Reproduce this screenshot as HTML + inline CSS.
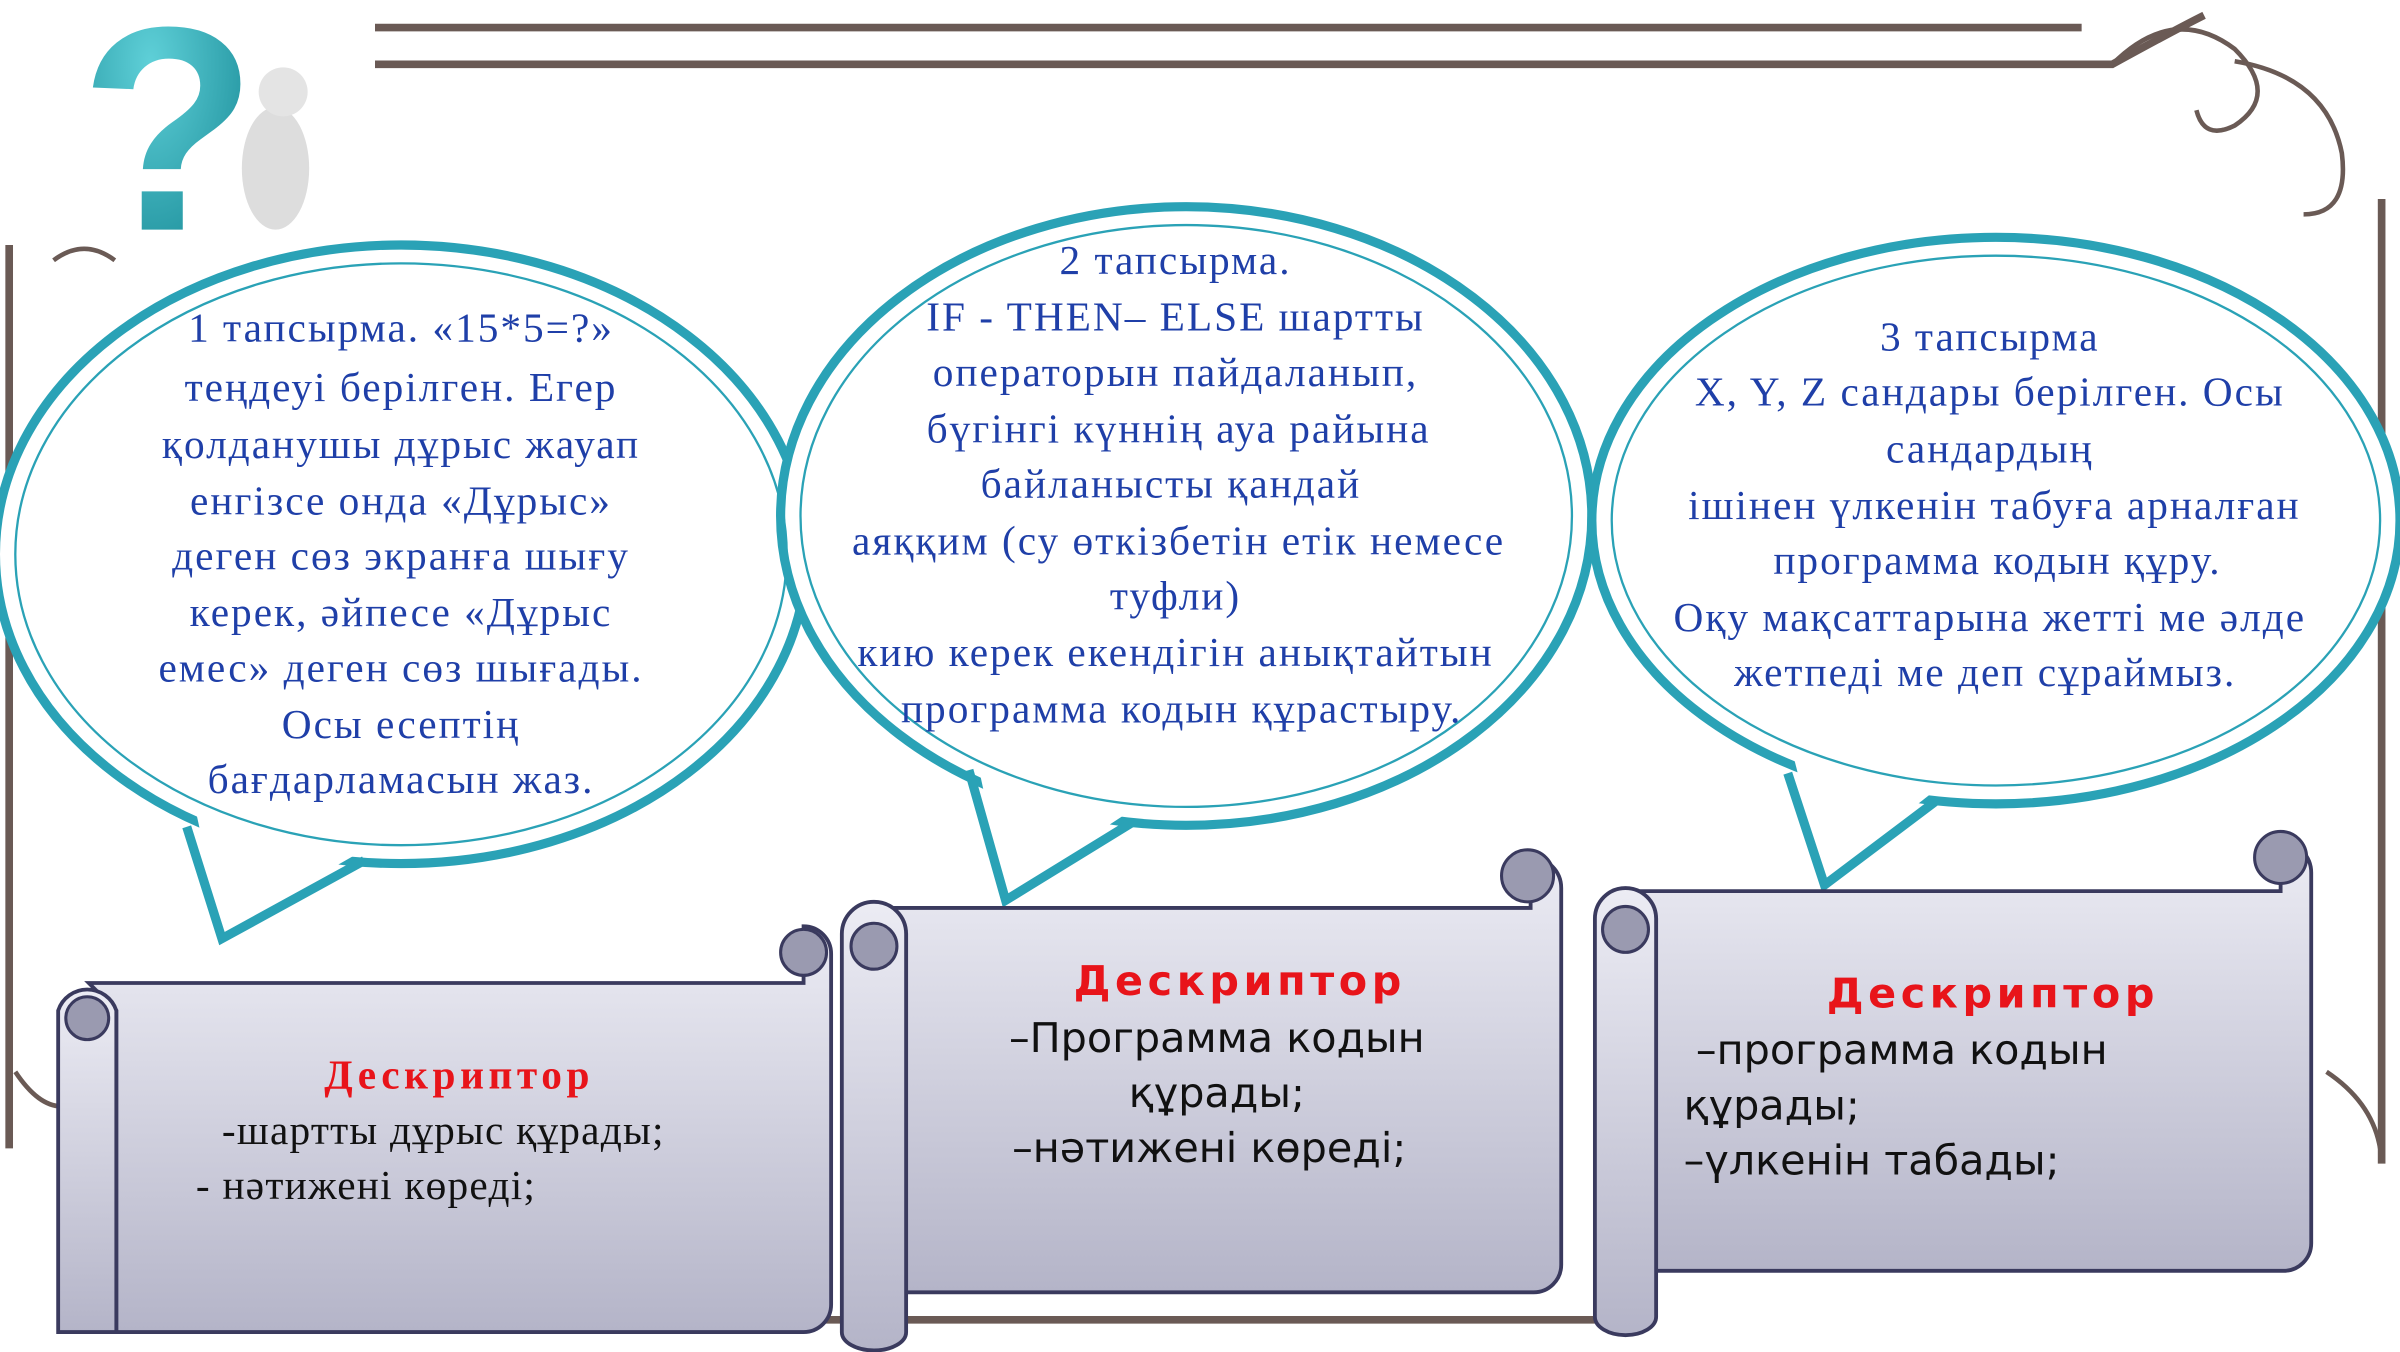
<!DOCTYPE html>
<html><head><meta charset="utf-8">
<style>
html,body{margin:0;padding:0;background:#fff;}
svg{display:block;}
.b{font-family:"Liberation Serif","DejaVu Serif",serif;font-size:27px;letter-spacing:1.3px;fill:#1f3fa8;text-anchor:middle;}
.d{font-family:"DejaVu Sans","Liberation Sans",sans-serif;font-size:27px;fill:#111;text-anchor:middle;}
.ds{font-family:"Liberation Serif",serif;font-size:27px;fill:#111;letter-spacing:0.8px;}
.r{fill:#e8141a;font-weight:bold;text-anchor:middle;letter-spacing:3px;}
</style></head><body>
<svg width="2400" height="1352" viewBox="0 0 1568 883" preserveAspectRatio="none" xmlns="http://www.w3.org/2000/svg">
<defs>
<linearGradient id="g" x1="0" y1="0" x2="0" y2="1">
<stop offset="0" stop-color="#ececf4"/><stop offset="1" stop-color="#b4b4c8"/></linearGradient>
<radialGradient id="q" cx="0.4" cy="0.3" r="0.7"><stop offset="0" stop-color="#5fd0d8"/><stop offset="1" stop-color="#1a8c98"/></radialGradient>
</defs>
<rect width="1568" height="883" fill="#fff"/>
<g fill="none" stroke="#6a5a55" stroke-width="5">
<path d="M245 42 H1380 Q1420 20 1440 10"/>
<path d="M245 18 H1360"/>
<path d="M6 160 V750"/>
<path d="M1556 130 V760"/>
<path d="M520 862 H1060"/>
</g>
<g fill="none" stroke="#6a5a55" stroke-width="3">
<path d="M1380 42 q40 -40 80 -10 q30 30 0 50 q-20 10 -25 -10"/>
<path d="M1460 40 q60 10 70 60 q5 40 -25 40"/>
<path d="M35 170 q20 -15 40 0"/>
<path d="M10 700 q20 30 40 20"/>
<path d="M1520 700 q30 20 35 50"/>
</g>
<rect x="0" y="0" width="245" height="158" fill="#fff"/>
<text x="110" y="150" font-family="Liberation Sans,sans-serif" font-weight="bold" font-size="190" fill="url(#q)" text-anchor="middle">?</text>
<ellipse cx="180" cy="110" rx="22" ry="40" fill="#ddd"/>
<circle cx="185" cy="60" r="16" fill="#e4e4e4"/>
<!-- bubbles -->
<g fill="#fff" stroke="#2aa2b6" stroke-width="6" stroke-linejoin="miter">
<ellipse cx="262" cy="362" rx="265" ry="202"/>
<ellipse cx="775" cy="337" rx="265" ry="202"/>
<ellipse cx="1304" cy="340" rx="264" ry="185"/>
</g>
<g fill="#fff" stroke="none">
<polygon points="128,530 145,608 238,555 230,545"/>
<polygon points="638,495 657,583 738,530 730,520"/>
<polygon points="1172,495 1192,573 1262,518 1255,508"/>
</g>
<g fill="none" stroke="#2aa2b6" stroke-width="6" stroke-linejoin="miter">
<polyline points="122,540 145,613 238,562"/>
<polyline points="633,503 657,588 740,537"/>
<polyline points="1168,505 1192,578 1265,523"/>
</g>
<g fill="none" stroke="#2aa2b6" stroke-width="1.5">
<ellipse cx="262" cy="362" rx="252" ry="190"/>
<ellipse cx="775" cy="337" rx="252" ry="190"/>
<ellipse cx="1304" cy="340" rx="251" ry="173"/>
</g>
<text class="b"><tspan x="262" y="223">1 тапсырма. «15*5=?»</tspan><tspan x="262" y="262">теңдеуі берілген. Егер</tspan><tspan x="262" y="299">қолданушы дұрыс жауап</tspan><tspan x="262" y="336">енгізсе онда «Дұрыс»</tspan><tspan x="262" y="372">деген сөз экранға шығу</tspan><tspan x="262" y="409">керек, әйпесе «Дұрыс</tspan><tspan x="262" y="445">емес» деген сөз шығады.</tspan><tspan x="262" y="482">Осы есептің</tspan><tspan x="262" y="518">бағдарламасын жаз.</tspan></text>
<text class="b"><tspan x="768" y="179">2 тапсырма.</tspan><tspan x="768" y="216">IF - THEN– ELSE шартты</tspan><tspan x="768" y="252">операторын пайдаланып,</tspan><tspan x="770" y="289">бүгінгі күннің ауа райына</tspan><tspan x="765" y="325">байланысты қандай</tspan><tspan x="770" y="362">аяққим (су өткізбетін етік немесе</tspan><tspan x="768" y="398">туфли)</tspan><tspan x="768" y="435">кию керек екендігін анықтайтын</tspan><tspan x="772" y="472">программа кодын құрастыру.</tspan></text>
<text class="b"><tspan x="1300" y="229">3 тапсырма</tspan><tspan x="1300" y="265">X, Y, Z сандары берілген. Осы</tspan><tspan x="1300" y="302">сандардың</tspan><tspan x="1303" y="339">ішінен үлкенін табуға арналған</tspan><tspan x="1305" y="375">программа кодын құру.</tspan><tspan x="1300" y="412">Оқу мақсаттарына жетті ме әлде</tspan><tspan x="1297" y="448">жетпеді ме деп сұраймыз.</tspan></text>
<g stroke="#3a3a5e" stroke-width="2.5" fill="url(#g)">
<path d="M58 642 H525 V605 a18 18 0 0 1 18 18 V852 a18 18 0 0 1 -18 18 H76 V660 Z"/>
<path d="M38 660 a20 20 0 0 1 38 0 V870 H38 Z"/>
<path d="M570 593 H1000 V560 a20 20 0 0 1 20 20 V826 a18 18 0 0 1 -18 18 H592 V610 Z"/>
<path d="M550 610 a21 21 0 0 1 42 0 V870 a21 12 0 0 1 -42 0 Z"/>
<path d="M1062 582 H1490 V550 a20 20 0 0 1 20 20 V812 a18 18 0 0 1 -18 18 H1082 V600 Z"/>
<path d="M1042 600 a20 20 0 0 1 40 0 V860 a20 12 0 0 1 -40 0 Z"/>
</g>
<g fill="#9a9ab0" stroke="#3a3a5e" stroke-width="2">
<circle cx="525" cy="622" r="15"/><circle cx="57" cy="665" r="14"/>
<circle cx="998" cy="572" r="17"/><circle cx="571" cy="618" r="15"/>
<circle cx="1490" cy="560" r="17"/><circle cx="1062" cy="607" r="15"/>
</g>
<text class="ds r" x="300" y="711" font-size="28">Дескриптор</text>
<text class="ds"><tspan x="145" y="747">-шартты дұрыс құрады;</tspan><tspan x="128" y="783">- нәтижені көреді;</tspan></text>
<text class="d r" x="810" y="650" font-size="30">Дескриптор</text>
<text class="d"><tspan x="795" y="687">–Программа кодын</tspan><tspan x="795" y="723">құрады;</tspan><tspan x="790" y="759">–нәтижені көреді;</tspan></text>
<text class="d r" x="1302" y="658" font-size="30">Дескриптор</text>
<text class="d" style="text-anchor:start"><tspan x="1108" y="695">–программа кодын</tspan><tspan x="1100" y="731">құрады;</tspan><tspan x="1100" y="767">–үлкенін табады;</tspan></text>
</svg>
</body></html>
